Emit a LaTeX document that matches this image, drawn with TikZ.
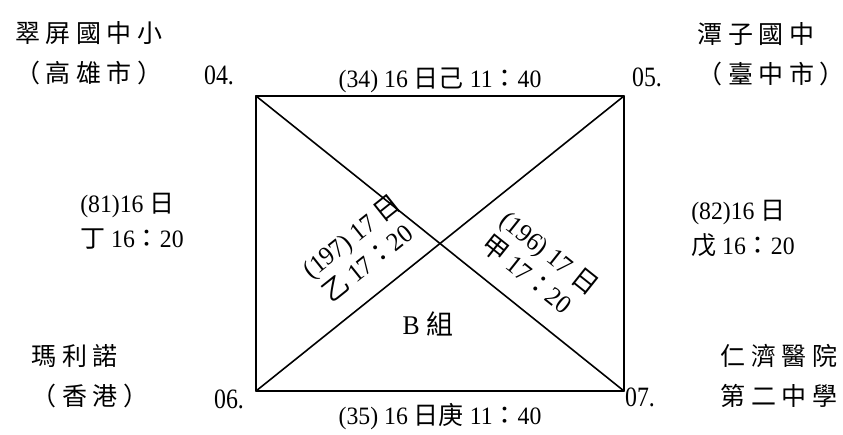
\documentclass[tikz,border=0pt]{standalone}
\usepackage{fontspec}
\setmainfont[FakeStretch=0.95]{Liberation Serif}
\newfontfamily\cjk{Noto Sans CJK TC}
\newfontfamily\cjkwide[LetterSpace=22]{Noto Sans CJK TC}
\usetikzlibrary{calc}

\begin{document}
\begin{tikzpicture}[line cap=round,line join=round,x=1pt,y=-1pt,
  team/.style={font=\fontsize{25}{40}\selectfont\cjkwide,align=left},
  game/.style={font=\fontsize{25}{35}\selectfont,align=left},
  cross/.style={font=\fontsize{26}{31}\selectfont,align=left},
  seed/.style={font=\fontsize{28}{30}\selectfont\addfontfeature{FakeStretch=0.85}}]
\useasboundingbox (0,0) rectangle (843,434);
\coordinate (c04) at (256,96);
\coordinate (c05) at (624,96);
\coordinate (c06) at (256,391);
\coordinate (c07) at (624,391);
\draw[line width=2pt] (c04) rectangle (c07);
\draw[line width=1.6pt] (c04) -- (c07);
\draw[line width=1.6pt] (c06) -- (c05);
% schools
\node[team] (s04) at (89,53) {翠屏國中小\\（高雄市）};
\node[team] (s05) at (771,54) {潭子國中\\（臺中市）};
\node[team] (s06) at (90,376) {瑪利諾\\（香港）};
\node[team] (s07) at (779,376) {仁濟醫院\\第二中學};
% seed numbers
\node[seed] (n04) at (219,75) {04.};
\node[seed] (n05) at (647,77) {05.};
\node[seed] (n06) at (229,399) {06.};
\node[seed] (n07) at (640,397) {07.};
% games
\node[game] (g34) at (440,80) {(34) 16 {\cjk 日己} 11{\cjk ：}40};
\node[game] (g35) at (440,417) {(35) 16 {\cjk 日庚} 11{\cjk ：}40};
\node[game] (g81) at (132,221) {(81)16 {\cjk 日}\\{\cjk 丁} 16{\cjk ：}20};
\node[game] (g82) at (743,229) {(82)16 {\cjk 日}\\{\cjk 戊} 16{\cjk ：}20};
\node[cross,rotate=38.6] (g197) at (361,248) {(197) 17 {\cjk 日}\\{\cjk 乙} 17{\cjk ：}20};
\node[cross,rotate=-38.6] (g196) at (540,265) {(196) 17 {\cjk 日}\\{\cjk 甲} 17{\cjk ：}20};
\node[game,font=\fontsize{27}{30}\selectfont] (grp) at (428,324) {B {\cjk 組}};
\end{tikzpicture}
\end{document}
